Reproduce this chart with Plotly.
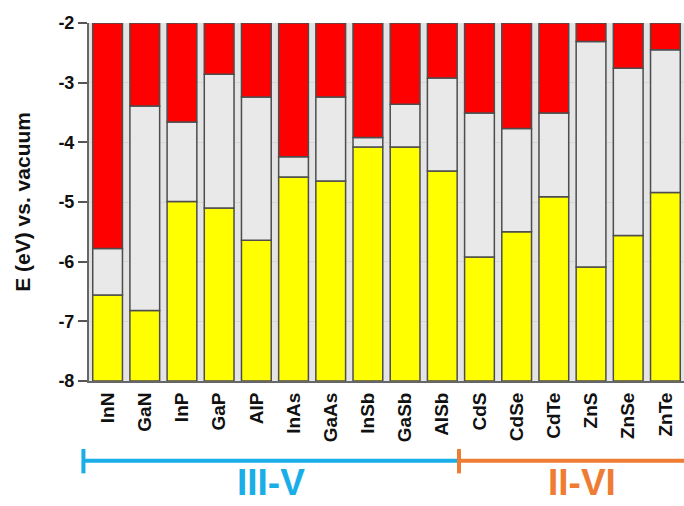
import plotly.graph_objects as go

# Semiconductor band edges vs. vacuum level (eV)
materials = ["InN", "GaN", "InP", "GaP", "AlP", "InAs", "GaAs", "InSb", "GaSb", "AlSb",
             "CdS", "CdSe", "CdTe", "ZnS", "ZnSe", "ZnTe"]
cbm = [-5.78, -3.39, -3.66, -2.86, -3.24, -4.24, -3.24, -3.92, -3.36, -2.92,
       -3.51, -3.77, -3.51, -2.31, -2.76, -2.45]
vbm = [-6.56, -6.82, -4.99, -5.10, -5.64, -4.58, -4.65, -4.08, -4.08, -4.48,
       -5.92, -5.50, -4.91, -6.09, -5.56, -4.84]
y_min, y_max = -8, -2
y_ticks = [-8, -7, -6, -5, -4, -3, -2]

# material families: (label, first index, last index, colour)
groups = [("III-V", 0, 9, "#1aaee8"), ("II-VI", 10, 15, "#ee7d33")]

FONT = "Liberation Sans, Arial, sans-serif"
edge = dict(color="#4d4d4d", width=1.5)

fig = go.Figure()
# valence band (yellow) from the bottom of the axis up to the VBM
fig.add_bar(x=materials, y=[v - y_min for v in vbm], base=[y_min] * len(vbm),
            marker=dict(color="#ffff00", line=edge), name="VB")
# band gap (gray) between VBM and CBM
fig.add_bar(x=materials, y=[c - v for c, v in zip(cbm, vbm)], base=vbm,
            marker=dict(color="#e9e9e9", line=edge), name="Gap")
# conduction band (red) from the CBM up to the top of the axis
fig.add_bar(x=materials, y=[y_max - c for c in cbm], base=cbm,
            marker=dict(color="#ff0000", line=edge), name="CB")

n = len(materials)


def cat_to_paper(pos):
    return (pos + 0.5) / n


shapes = []
annotations = []
bracket_y = -0.223
cap_lo, cap_hi = -0.258, -0.19
for i, (label, first, last, col) in enumerate(groups):
    x0 = first - 0.65 if i == 0 else first - 0.55
    x1 = last + 0.45 if i < len(groups) - 1 else last + 1.05
    p0, p1 = cat_to_paper(x0), cat_to_paper(x1)
    shapes.append(dict(type="line", xref="paper", yref="paper", x0=p0, x1=p1,
                       y0=bracket_y, y1=bracket_y, line=dict(color=col, width=4)))
    shapes.append(dict(type="line", xref="paper", yref="paper", x0=p0, x1=p0,
                       y0=cap_lo, y1=cap_hi, line=dict(color=col, width=4)))
    annotations.append(dict(text=f"<b>{label}</b>", xref="paper", yref="paper",
                            x=(p0 + p1) / 2, y=-0.346, xanchor="center", yanchor="bottom",
                            showarrow=False, font=dict(family=FONT, size=37, color=col)))

annotations.append(dict(text="<b>E (eV) vs. vacuum</b>", xref="paper", yref="paper",
                        x=-0.113, y=0.5, xanchor="center", yanchor="middle", textangle=-90,
                        showarrow=False, font=dict(family=FONT, size=21, color="#111")))

fig.update_layout(
    width=684, height=506,
    margin=dict(l=89, r=0, t=23, b=125),
    barmode="overlay", bargap=0.2, showlegend=False,
    paper_bgcolor="white", plot_bgcolor="#e4e4e4",
    shapes=shapes, annotations=annotations,
    font=dict(family=FONT, color="#111"),
)
fig.update_xaxes(range=[-0.5, n - 0.5], tickangle=-90, showline=True, linecolor="#666",
                 linewidth=2, ticks="", tickfont=dict(family=FONT, size=19, color="#111"),
                 tickprefix="<b>", ticksuffix="</b>", showgrid=False, ticklabelstandoff=2)
fig.update_yaxes(range=[y_min, y_max], tickvals=y_ticks,
                 ticktext=[f"<b>{t}</b>" for t in y_ticks],
                 showline=True, linecolor="#666", linewidth=2, ticks="outside",
                 ticklen=9, tickcolor="#555", tickwidth=1.5,
                 tickfont=dict(family=FONT, size=18, color="#111"),
                 showgrid=True, gridcolor="#d6d6d6", gridwidth=1, zeroline=False)

fig.write_html("out.html")
